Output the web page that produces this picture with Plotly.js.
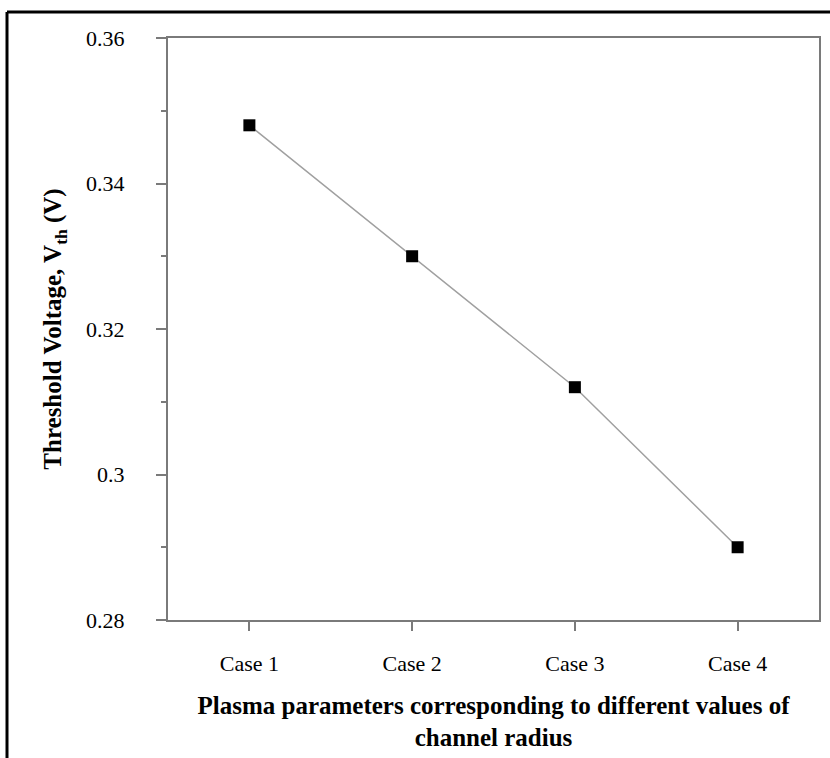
<!DOCTYPE html>
<html>
<head>
<meta charset="utf-8">
<script src="https://cdn.plot.ly/plotly-3.0.1.min.js"></script>
<style>html,body{margin:0;padding:0;background:#fff;}#chart{width:830px;height:758px;}</style>
</head>
<body>
<div id="chart"></div>
<script>
const categories = ["Case 1", "Case 2", "Case 3", "Case 4"];
const thresholdVoltage = [0.348, 0.330, 0.312, 0.290];
const yTickValues = [0.28, 0.30, 0.32, 0.34, 0.36];
const yTickLabels = ["0.28", "0.3", "0.32", "0.34", "0.36"];

const serif = "'Liberation Serif', 'Times New Roman', serif";
const axisGray = "#7a7a7a";

const trace = {
  x: categories.map((c, i) => i),
  y: thresholdVoltage,
  type: "scatter",
  mode: "lines+markers",
  line: {color: "#a0a0a0", width: 1.5},
  marker: {symbol: "square", size: 12, color: "#000000"},
  cliponaxis: false,
  hoverinfo: "skip"
};

const layout = {
  width: 830, height: 758,
  margin: {l: 168, r: 11, t: 38, b: 138},
  paper_bgcolor: "#ffffff",
  plot_bgcolor: "#ffffff",
  showlegend: false,
  font: {family: serif, color: "#000000", size: 22},
  xaxis: {
    range: [-0.5, 3.5],
    tickmode: "array",
    tickvals: categories.map((c, i) => i),
    ticktext: categories,
    showgrid: false, zeroline: false,
    showline: true, linecolor: axisGray, linewidth: 2, mirror: true,
    ticks: "outside", ticklen: 9, tickwidth: 2, tickcolor: axisGray,
    ticklabelstandoff: 14,
    tickfont: {family: serif, size: 22, color: "#000"},
    title: {
      text: "<b>Plasma parameters corresponding to different values of<br>channel radius</b>",
      font: {family: serif, size: 25, color: "#000"},
      standoff: 21
    }
  },
  yaxis: {
    range: [0.28, 0.36],
    tickmode: "array",
    tickvals: yTickValues,
    ticktext: yTickLabels,
    showgrid: false, zeroline: false,
    showline: true, linecolor: axisGray, linewidth: 2, mirror: true,
    ticks: "outside", ticklen: 10, tickwidth: 2, tickcolor: axisGray,
    minor: {dtick: 0.01, ticks: "outside", ticklen: 5, tickwidth: 2, tickcolor: axisGray, showgrid: false},
    ticklabelstandoff: 27,
    tickfont: {family: serif, size: 22, color: "#000"},
    title: {
      text: "<b>Threshold Voltage, V<sub>th</sub> (V)</b>",
      font: {family: serif, size: 25, color: "#000"},
      standoff: 17
    }
  },
  shapes: [
    {type: "line", xref: "paper", yref: "paper", x0: -0.2473, x1: 1.05, y0: 1.0447, y1: 1.0447,
     line: {color: "#000", width: 3}},
    {type: "line", xref: "paper", yref: "paper", x0: -0.2473, x1: -0.2473, y0: 1.0447, y1: -0.3,
     line: {color: "#000", width: 3}}
  ]
};

Plotly.newPlot("chart", [trace], layout, {displayModeBar: false, staticPlot: true});
</script>
</body>
</html>
